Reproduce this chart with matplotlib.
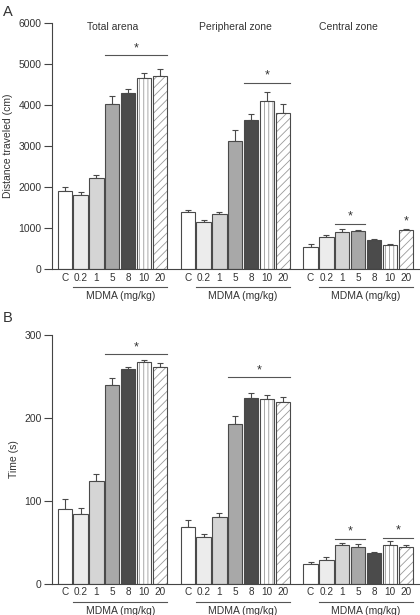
import matplotlib
matplotlib.use("Agg")
import matplotlib.pyplot as plt
import matplotlib.transforms as mtransforms

plt.rcParams['font.family'] = ['Liberation Sans', 'DejaVu Sans']
plt.rcParams['hatch.linewidth'] = 0.6

doses = ["C", "0.2", "1", "5", "8", "10", "20"]
zones = ["Total arena", "Peripheral zone", "Central zone"]

# Panel A: distance traveled (cm)
dist_total = [1900, 1810, 2220, 4030, 4290, 4670, 4720]
dist_total_err = [110, 60, 80, 180, 90, 120, 160]
dist_periph = [1390, 1150, 1345, 3130, 3640, 4090, 3800]
dist_periph_err = [60, 50, 50, 250, 150, 230, 230]
dist_central = [550, 780, 910, 918, 700, 593, 955]
dist_central_err = [50, 45, 55, 25, 30, 20, 30]

# Panel B: time (s)
time_total = [90, 84, 124, 240, 259, 268, 262]
time_total_err = [13, 7, 8, 8, 2, 1.5, 4.5]
time_periph = [69, 56.5, 81, 192.5, 224, 223, 219.5]
time_periph_err = [8, 3.5, 4, 10, 6, 5, 6]
time_central = [24, 29, 46.5, 45, 37, 47, 45]
time_central_err = [3, 4, 3.5, 3, 2, 5, 2]

# significance markers: (zone index, first bar, last bar, line height)
sig_A = [(0, 3, 6, 5220), (1, 4, 6, 4550), (2, 2, 3, 1110), (2, 6, 6, 990)]
sig_B = [(0, 3, 6, 277), (1, 3, 6, 249), (2, 2, 3, 54.5), (2, 5, 6, 56)]

fills = ["white", "#ececec", "#d5d5d5", "#a8a8a8", "#4b4b4b", "white", "white"]
hatches = [None, None, None, None, None, "||||", "////"]
edge = "#4a4a4a"
txt = "#333333"
GAP = 7.75
W = 0.9
FS = 7.5

fig = plt.figure(figsize=(4.2, 6.15), dpi=100)
axA = fig.add_axes([0.124, 0.5625, 0.876, 0.400])
axB = fig.add_axes([0.124, 0.0504, 0.876, 0.4049])


def draw(ax, groups, errs, ymax, yticks, ylabel, sigs):
    xs_all = []
    for g, (vals, er) in enumerate(zip(groups, errs)):
        xs = [g * GAP + i for i in range(len(vals))]
        xs_all += xs
        ax.errorbar(xs, vals, yerr=[[0] * len(vals), er], fmt='none',
                    ecolor=edge, elinewidth=0.8, capsize=2.5, capthick=0.8, zorder=1)
        for i, (x, v) in enumerate(zip(xs, vals)):
            if hatches[i]:
                ax.bar(x, v, width=W, color=fills[i], edgecolor="#9a9a9a",
                       hatch=hatches[i], linewidth=0, zorder=2)
                ax.bar(x, v, width=W, color='none', edgecolor=edge,
                       linewidth=0.8, zorder=3)
            else:
                ax.bar(x, v, width=W, color=fills[i], edgecolor=edge,
                       linewidth=0.8, zorder=2)
        # underline + MDMA label
        tr = mtransforms.blended_transform_factory(ax.transData, ax.transAxes)
        off1 = tr + mtransforms.ScaledTranslation(0, -18 / 100, fig.dpi_scale_trans)
        off2 = tr + mtransforms.ScaledTranslation(0, -26.5 / 100, fig.dpi_scale_trans)
        ax.plot([xs[1] - W / 2, xs[6] + W / 2], [0, 0], color="#555555",
                lw=0.8, transform=off1, clip_on=False)
        ax.text((xs[1] + xs[6]) / 2, 0, "MDMA (mg/kg)", transform=off2,
                ha='center', va='center', fontsize=FS, color=txt)
    ax.set_xticks(xs_all)
    ax.set_xticklabels(doses * 3, fontsize=7.2, color=txt)
    ax.tick_params(axis='x', length=0, pad=2.5)
    ax.set_xlim(-0.8, 22.4)
    ax.set_ylim(0, ymax)
    ax.set_yticks(yticks)
    ax.set_yticklabels([str(t) for t in yticks], fontsize=FS, color=txt)
    ax.tick_params(axis='y', length=6, width=0.8, color="#444444", pad=1.5)
    ax.set_ylabel(ylabel, fontsize=FS, color=txt, labelpad=4)
    for s in ['top', 'right']:
        ax.spines[s].set_visible(False)
    for s in ['left', 'bottom']:
        ax.spines[s].set_color("#444444")
        ax.spines[s].set_linewidth(0.8)
    for g, a, b, h in sigs:
        x0 = g * GAP + a
        x1 = g * GAP + b
        if b > a:
            ax.plot([x0 - W / 2, x1 + W / 2], [h, h], color="#555555", lw=0.8)
        ax.text((x0 + x1) / 2, h + ymax * 0.004, "*", ha='center', va='bottom',
                fontsize=9, color=txt)


draw(axA, [dist_total, dist_periph, dist_central],
     [dist_total_err, dist_periph_err, dist_central_err],
     6000, [0, 1000, 2000, 3000, 4000, 5000, 6000],
     "Distance traveled (cm)", sig_A)
draw(axB, [time_total, time_periph, time_central],
     [time_total_err, time_periph_err, time_central_err],
     300, [0, 100, 200, 300], "Time (s)", sig_B)

title_x = [3, GAP + 3, 2 * GAP + 2.4]
for z, x in zip(zones, title_x):
    axA.text(x, 0.985, z, transform=mtransforms.blended_transform_factory(axA.transData, axA.transAxes),
             ha='center', va='center', fontsize=FS, color=txt)

fig.text(8 / 420, 1 - 12 / 615, "A", fontsize=10.5, color=txt, ha='center', va='center')
fig.text(8 / 420, 1 - 318 / 615, "B", fontsize=10.5, color=txt, ha='center', va='center')

fig.savefig("out.png", dpi=100)
